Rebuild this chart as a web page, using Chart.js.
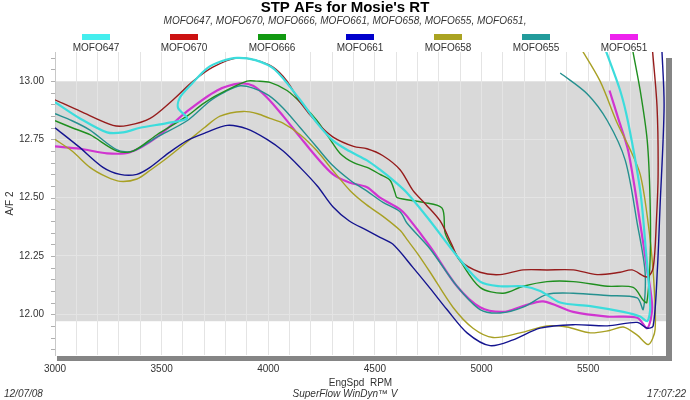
<!DOCTYPE html>
<html>
<head>
<meta charset="utf-8">
<script src="https://cdn.jsdelivr.net/npm/chart.js@4.4.1/dist/chart.umd.min.js"></script>
<style>
  html, body { margin: 0; padding: 0; background: #fff; }
  #wrap { width: 690px; height: 400px; }
</style>
</head>
<body>
<div id="wrap"><canvas id="afChart" width="690" height="400"></canvas></div>
<script>
// run names, in legend order
const runNames = ['MOFO647', 'MOFO670', 'MOFO666', 'MOFO661', 'MOFO658', 'MOFO655', 'MOFO651'];

// [EngSpd RPM, A/F], in drawing order (pull, then the drop-off hook)
const mofo647 = [[3000,12.91],[3117,12.84],[3244,12.78],[3319,12.78],[3399,12.80],[3525,12.82],[3619,12.84],[3577,12.885],[3586,12.93],[3643,12.99],[3713,13.055],[3780,13.085],[3853,13.10],[3940,13.09],[4030,13.05],[4149,12.92],[4229,12.82],[4304,12.745],[4380,12.70],[4463,12.66],[4524,12.62],[4585,12.575],[4651,12.52],[4759,12.40],[4885,12.25],[4993,12.14],[5087,12.12],[5195,12.12],[5275,12.10],[5369,12.05],[5510,12.035],[5665,12.01],[5744,11.99],[5777,11.97],[5791,12.03],[5770,12.28],[5744,12.53],[5688,12.82],[5650,12.96],[5575,13.15]];
const mofo670 = [[3000,12.92],[3120,12.87],[3272,12.81],[3342,12.81],[3446,12.84],[3554,12.92],[3648,13.00],[3740,13.06],[3853,13.10],[3940,13.09],[4022,13.06],[4088,13.00],[4149,12.91],[4230,12.82],[4304,12.76],[4400,12.72],[4463,12.71],[4538,12.68],[4618,12.62],[4679,12.53],[4740,12.47],[4806,12.40],[4860,12.30],[4899,12.23],[4993,12.18],[5087,12.17],[5195,12.19],[5307,12.19],[5430,12.19],[5542,12.17],[5650,12.18],[5706,12.19],[5777,12.16],[5805,12.20],[5820,12.40],[5828,12.60],[5823,12.89],[5800,13.15]];
const mofo666 = [[3000,12.83],[3080,12.80],[3164,12.77],[3291,12.70],[3366,12.70],[3478,12.77],[3619,12.85],[3690,12.90],[3760,12.94],[3900,13.00],[3947,13.00],[4008,12.995],[4088,12.96],[4160,12.90],[4229,12.83],[4290,12.75],[4337,12.69],[4400,12.65],[4463,12.63],[4524,12.60],[4571,12.575],[4595,12.52],[4604,12.50],[4726,12.48],[4815,12.455],[4829,12.35],[4860,12.29],[4899,12.23],[4993,12.115],[5101,12.09],[5195,12.12],[5307,12.14],[5430,12.14],[5590,12.12],[5711,12.115],[5758,12.06],[5775,12.05],[5791,12.25],[5790,12.50],[5777,12.745],[5744,12.96],[5705,13.15]];
const mofo661 = [[3000,12.80],[3110,12.72],[3225,12.63],[3305,12.60],[3384,12.60],[3446,12.63],[3530,12.69],[3619,12.745],[3710,12.78],[3807,12.81],[3900,12.795],[3994,12.75],[4070,12.70],[4149,12.63],[4230,12.55],[4304,12.46],[4380,12.40],[4463,12.36],[4524,12.33],[4585,12.30],[4679,12.20],[4760,12.11],[4838,12.02],[4932,11.92],[5040,11.865],[5148,11.89],[5275,11.94],[5430,11.955],[5590,11.95],[5730,11.965],[5777,11.94],[5805,11.95],[5825,12.20],[5837,12.46],[5856,12.89],[5845,13.15]];
const mofo658 = [[3000,12.75],[3080,12.70],[3164,12.63],[3240,12.59],[3305,12.57],[3384,12.58],[3450,12.62],[3525,12.67],[3633,12.75],[3700,12.80],[3774,12.85],[3882,12.87],[3950,12.86],[4008,12.84],[4069,12.82],[4150,12.77],[4229,12.70],[4300,12.62],[4384,12.53],[4460,12.47],[4538,12.42],[4618,12.36],[4651,12.32],[4700,12.26],[4759,12.18],[4866,12.03],[4960,11.94],[5054,11.90],[5181,11.92],[5307,11.95],[5400,11.945],[5510,11.92],[5600,11.93],[5665,11.945],[5730,11.91],[5782,11.87],[5814,11.935],[5805,12.18],[5780,12.40],[5744,12.60],[5690,12.72],[5636,12.82],[5556,13.00],[5460,13.15]];
const mofo655 = [[3000,12.86],[3080,12.83],[3164,12.79],[3291,12.705],[3366,12.70],[3478,12.76],[3619,12.83],[3727,12.915],[3800,12.955],[3868,12.98],[3929,12.97],[4000,12.94],[4069,12.885],[4150,12.80],[4229,12.715],[4300,12.64],[4384,12.575],[4460,12.53],[4538,12.48],[4618,12.44],[4651,12.39],[4759,12.28],[4885,12.12],[4993,12.02],[5087,12.005],[5195,12.03],[5307,12.085],[5430,12.09],[5590,12.08],[5730,12.07],[5758,12.02],[5767,12.18],[5730,12.39],[5674,12.66],[5590,12.83],[5496,12.945],[5369,13.035]];
const mofo651 = [[3000,12.72],[3117,12.71],[3244,12.69],[3352,12.695],[3478,12.76],[3619,12.87],[3760,12.96],[3868,12.99],[3929,12.98],[3994,12.93],[4070,12.85],[4149,12.76],[4230,12.67],[4304,12.60],[4380,12.565],[4463,12.545],[4524,12.50],[4618,12.45],[4651,12.42],[4759,12.29],[4885,12.12],[4993,12.03],[5101,12.01],[5195,12.035],[5289,12.055],[5430,12.01],[5590,11.99],[5730,11.985],[5777,11.94],[5800,12.03],[5775,12.20],[5744,12.39],[5688,12.70],[5641,12.84],[5600,12.96]];

const runData = [mofo647, mofo670, mofo666, mofo661, mofo658, mofo655, mofo651];

// grey target band on the A/F axis
const bandTop = 13.00;
const bandBottom = 11.97;

const lineColors = ['#3cdcdc', '#961c1c', '#1f8f1f', '#14148f', '#a8a024', '#25908f', '#d035d0'];
const keyColors = ['#44eeee', '#cc1111', '#119911', '#0000cc', '#aaa322', '#229b9b', '#ee22ee'];
const lineWidths = [2.2, 1.4, 1.4, 1.4, 1.4, 1.4, 2.2];

const FONT = '"Liberation Sans", Arial, sans-serif';

const framePlugin = {
    id: 'frame',
    beforeDraw(chart) {
        const { ctx, chartArea: a, scales } = chart;
        ctx.save();
        ctx.fillStyle = '#fff';
        ctx.fillRect(0, 0, chart.width, chart.height);
        // drop shadow
        ctx.fillStyle = '#858585';
        ctx.fillRect(a.right, a.top + 6, 6, a.bottom - a.top);
        ctx.fillRect(a.left + 2, a.bottom + 1, a.right - a.left + 4, 5);
        ctx.fillStyle = '#fff';
        ctx.fillRect(a.left, a.top, a.right - a.left, a.bottom - a.top);
        // grey band
        const y1 = scales.y.getPixelForValue(bandTop);
        const y2 = scales.y.getPixelForValue(bandBottom);
        ctx.fillStyle = '#d9d9d9';
        ctx.fillRect(a.left, y1, a.right - a.left, y2 - y1);
        ctx.restore();
    },
    afterDraw(chart) {
        const { ctx, chartArea: a, scales } = chart;
        ctx.save();
        // minor ticks on the A/F axis
        ctx.strokeStyle = '#b0b0b0';
        ctx.lineWidth = 1;
        for (let v = 11.85; v < 13.12; v += 0.05) {
            const y = Math.round(scales.y.getPixelForValue(v)) + 0.5;
            ctx.beginPath();
            ctx.moveTo(a.left - 4, y);
            ctx.lineTo(a.left, y);
            ctx.stroke();
        }
        // titles
        ctx.fillStyle = '#000';
        ctx.textAlign = 'center';
        ctx.textBaseline = 'middle';
        ctx.font = 'bold 15px ' + FONT;
        ctx.fillText("STP AFs for Mosie's RT", 345, 8);
        ctx.fillStyle = '#333';
        ctx.font = 'italic 10px ' + FONT;
        ctx.fillText(runNames.join(', ') + ',', 345, 21);
        // legend
        ctx.font = '10px ' + FONT;
        runNames.forEach((name, i) => {
            const cx = 96 + 88 * i;
            ctx.fillStyle = keyColors[i];
            ctx.fillRect(cx - 14, 34, 28, 6);
            ctx.fillStyle = '#333';
            ctx.fillText(name, cx, 48);
        });
        // footer
        ctx.font = 'italic 10px ' + FONT;
        ctx.fillStyle = '#333';
        ctx.textAlign = 'left';
        ctx.fillText('12/07/08', 4, 394);
        ctx.textAlign = 'center';
        ctx.fillText('SuperFlow WinDyn\u2122 V', 345, 394);
        ctx.textAlign = 'right';
        ctx.fillText('17:07:22', 686, 394);
        ctx.restore();
    }
};

const ctx = document.getElementById('afChart').getContext('2d');
new Chart(ctx, {
    type: 'scatter',
    data: {
        datasets: runNames.map((name, i) => ({
            label: name,
            data: runData[i].map(p => ({ x: p[0], y: p[1] })),
            showLine: true,
            borderColor: lineColors[i],
            backgroundColor: lineColors[i],
            borderWidth: lineWidths[i],
            pointRadius: 0,
            tension: 0.3,
        })),
    },
    options: {
        responsive: false,
        animation: false,
        events: [],
        layout: { padding: { top: 52, right: 24, left: 0, bottom: 0 } },
        plugins: {
            legend: { display: false },
            title: { display: false },
            tooltip: { enabled: false },
        },
        scales: {
            x: {
                type: 'linear',
                min: 3000,
                max: 5865,
                afterFit: (s) => { s.height = 45; },
                ticks: {
                    stepSize: 100,
                    includeBounds: false,
                    autoSkip: false,
                    maxRotation: 0,
                    padding: 8,
                    color: '#333',
                    font: { family: FONT, size: 10 },
                    callback: (v) => (v % 500 === 0 ? String(v) : ''),
                },
                grid: { color: '#e4e4e4', drawTicks: false },
                border: { display: false },
                title: {
                    display: true,
                    text: 'EngSpd  RPM',
                    color: '#333',
                    font: { family: FONT, size: 10 },
                    padding: { top: 0, bottom: 11 },
                },
            },
            y: {
                min: 11.825,
                max: 13.125,
                afterFit: (s) => { s.width = 55; },
                ticks: {
                    stepSize: 0.25,
                    includeBounds: false,
                    padding: 11,
                    color: '#333',
                    font: { family: FONT, size: 10 },
                    callback: (v) => v.toFixed(2),
                },
                grid: { color: '#e4e4e4', drawTicks: false },
                border: { display: true, color: '#c8c8c8' },
                title: {
                    display: true,
                    text: 'A/F 2',
                    color: '#333',
                    font: { family: FONT, size: 10 },
                    padding: { top: 4, bottom: 4 },
                },
            },
        },
    },
    plugins: [framePlugin],
});
</script>
</body>
</html>
